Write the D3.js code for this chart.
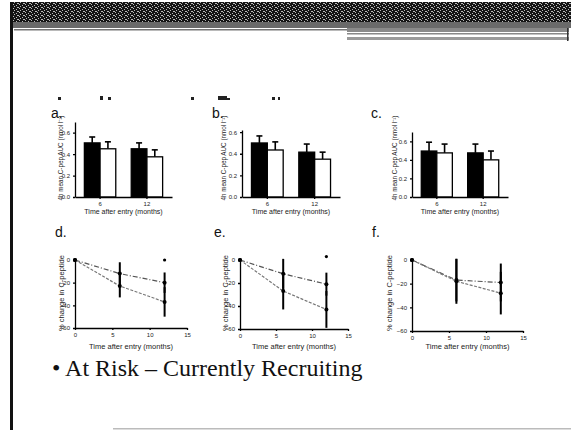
<!DOCTYPE html>
<html>
<head>
<meta charset="utf-8">
<script src="https://cdn.jsdelivr.net/npm/d3@7"></script>
<style>
body { margin: 0; background: #fff; }
text { font-family: "Liberation Sans", Arial, sans-serif; }
</style>
</head>
<body>
<script>
// bar panels a-c : 4h mean C-peptide AUC at 6 and 12 months
const barGroups = ["6", "12"];
const barTicks = [0, 0.2, 0.4, 0.6];

const aBlack = [0.505, 0.45], aBlackErr = [0.055, 0.055];
const aWhite = [0.45, 0.375], aWhiteErr = [0.065, 0.065];
const bBlack = [0.50, 0.415], bBlackErr = [0.065, 0.075];
const bWhite = [0.435, 0.35], bWhiteErr = [0.075, 0.065];
const cBlack = [0.495, 0.475], cBlackErr = [0.095, 0.095];
const cWhite = [0.475, 0.40], cWhiteErr = [0.095, 0.095];

// line panels d-f : % change in C-peptide
const timePoints = [0, 6, 12];
const xTicks = [0, 5, 10, 15];
const yTicks = [0, -20, -40, -60];

const dUpper = [0, -12, -20], dUpperErr = [0, 10, 9];
const dLower = [0, -23, -37], dLowerErr = [0, 10, 13];
const dHigh = [[12, 0]];
const eUpper = [0, -12, -21], eUpperErr = [0, 13, 10];
const eLower = [0, -27, -43], eLowerErr = [0, 16, 16];
const eHigh = [[12, 3]];
const fUpper = [0, -17, -19], fUpperErr = [0, 18, 16];
const fLower = [0, -18, -28], fLowerErr = [0, 19, 18];
const fHigh = [];

const svg = d3.select("body").append("svg")
	.attr("width", 571)
	.attr("height", 430);

// slide frame: dithered banner, left rule, bottom rule
const defs = svg.append("defs");
const pat = defs.append("pattern")
	.attr("id", "dither")
	.attr("width", 6).attr("height", 4)
	.attr("patternUnits", "userSpaceOnUse");
pat.append("rect").attr("width", 6).attr("height", 4).attr("fill", "#151515");
[[1, 0], [4, 1], [2, 2], [5, 3], [0, 3]].forEach(p => {
	pat.append("rect").attr("x", p[0]).attr("y", p[1]).attr("width", 1).attr("height", 1).attr("fill", "#bbb");
});

svg.append("rect").attr("x", 11).attr("y", 2).attr("width", 560).attr("height", 20).attr("fill", "url(#dither)");
svg.append("rect").attr("x", 11).attr("y", 22).attr("width", 560).attr("height", 6).attr("fill", "#6a6a6a");
svg.append("rect").attr("x", 14).attr("y", 29).attr("width", 333).attr("height", 1.5).attr("fill", "#777");
svg.append("rect").attr("x", 347).attr("y", 28).attr("width", 222).attr("height", 4).attr("fill", "#8a8a8a");
svg.append("rect").attr("x", 347).attr("y", 33).attr("width", 222).attr("height", 1.5).attr("fill", "#888");
svg.append("rect").attr("x", 347).attr("y", 37).attr("width", 222).attr("height", 3).attr("fill", "#9a9a9a");
svg.append("rect").attr("x", 567).attr("y", 28).attr("width", 1.5).attr("height", 13).attr("fill", "#333");
svg.append("rect").attr("x", 10).attr("y", 2).attr("width", 3).attr("height", 428).attr("fill", "#111");
svg.append("rect").attr("x", 113).attr("y", 428).attr("width", 458).attr("height", 1.5).attr("fill", "#bbb");

// clipped remains of a text line above the panels
[[58, 97, 3, 3], [100, 96, 3, 4], [108, 97, 3, 3], [191, 97, 3, 3],
 [218, 96, 9, 4], [227, 98, 3, 2], [272, 97, 3, 3], [278, 97, 2, 3]].forEach(r => {
	svg.append("rect").attr("x", r[0]).attr("y", r[1]).attr("width", r[2]).attr("height", r[3]).attr("fill", "#222");
});

function styleAxis(g) {
	g.selectAll("path, line").attr("stroke", "#000").attr("stroke-width", 1.3);
	g.selectAll("text").attr("font-size", 6).attr("fill", "#222");
}

function barPanel(p) {
	const g = svg.append("g");
	const x = d3.scaleBand().domain(barGroups).range([p.x0, p.x1])
		.paddingInner(0.33).paddingOuter(0.2);
	const y = d3.scaleLinear().domain([0, p.yMax]).range([197, p.yTop]);
	const half = x.bandwidth() / 2;

	const series = [
		{vals: p.black, errs: p.blackErr, fill: "#000", off: 0},
		{vals: p.white, errs: p.whiteErr, fill: "#fff", off: half}
	];
	series.forEach(s => {
		const bars = g.selectAll(null).data(barGroups).enter();
		bars.append("line")
			.attr("x1", (d) => x(d) + s.off + half / 2)
			.attr("x2", (d) => x(d) + s.off + half / 2)
			.attr("y1", (d, i) => y(s.vals[i]))
			.attr("y2", (d, i) => y(s.vals[i] + s.errs[i]))
			.attr("stroke", "#000").attr("stroke-width", 1.6);
		bars.append("line")
			.attr("x1", (d) => x(d) + s.off + half / 2 - 3)
			.attr("x2", (d) => x(d) + s.off + half / 2 + 3)
			.attr("y1", (d, i) => y(s.vals[i] + s.errs[i]))
			.attr("y2", (d, i) => y(s.vals[i] + s.errs[i]))
			.attr("stroke", "#000").attr("stroke-width", 1.6);
		bars.append("rect")
			.attr("x", (d) => x(d) + s.off)
			.attr("y", (d, i) => y(s.vals[i]))
			.attr("width", half)
			.attr("height", (d, i) => y(0) - y(s.vals[i]))
			.attr("fill", s.fill)
			.attr("stroke", "#000").attr("stroke-width", 1.3);
	});

	g.append("g").attr("transform", `translate(0,197)`)
		.call(d3.axisBottom(x).tickSize(2).tickSizeOuter(0))
		.call(styleAxis);
	g.append("g").attr("transform", `translate(${p.x0},0)`)
		.call(d3.axisLeft(y).tickValues(barTicks).tickFormat(d3.format(".1f")).tickSize(2).tickSizeOuter(0))
		.call(styleAxis);

	g.append("text").attr("x", (p.x0 + p.x1) / 2).attr("y", 214)
		.attr("text-anchor", "middle").attr("font-size", 7).attr("fill", "#222")
		.text("Time after entry (months)");
	g.append("text")
		.attr("transform", `translate(${p.labX},158) rotate(-90)`)
		.attr("text-anchor", "middle").attr("font-size", 6.3).attr("fill", "#222")
		.text("4h mean C-pep AUC (nmol l⁻¹)");
	g.append("text").attr("x", p.letX).attr("y", 118)
		.attr("font-size", 14).attr("fill", "#111").text(p.letter);
}

function linePanel(p) {
	const g = svg.append("g");
	const x = d3.scaleLinear().domain([0, 15]).range([p.x0, p.x1]);
	const y = d3.scaleLinear().domain([-60, 0]).range([p.yBot, 260]);

	const series = [
		{vals: p.upper, errs: p.upperErr, color: "#555", dash: "5,2,1,2"},
		{vals: p.lower, errs: p.lowerErr, color: "#777", dash: "3,1.5"}
	];
	series.forEach(s => {
		const pts = timePoints.map((t, i) => [t, s.vals[i], s.errs[i]]);
		g.append("path")
			.attr("d", d3.line().x(d => x(d[0])).y(d => y(d[1]))(pts))
			.attr("fill", "none").attr("stroke", s.color)
			.attr("stroke-width", 1.2).attr("stroke-dasharray", s.dash);
		g.selectAll(null).data(pts.filter(d => d[2] > 0)).enter().append("line")
			.attr("x1", d => x(d[0])).attr("x2", d => x(d[0]))
			.attr("y1", d => y(d[1] + d[2])).attr("y2", d => y(d[1] - d[2]))
			.attr("stroke", "#000").attr("stroke-width", 2);
		g.selectAll(null).data(pts).enter().append("circle")
			.attr("cx", d => x(d[0])).attr("cy", d => y(d[1]))
			.attr("r", 2).attr("fill", "#000");
	});
	g.selectAll(null).data(p.high).enter().append("circle")
		.attr("cx", d => x(d[0])).attr("cy", d => y(d[1]))
		.attr("r", 1.6).attr("fill", "#000");

	g.append("g").attr("transform", `translate(0,${p.yBot})`)
		.call(d3.axisBottom(x).tickValues(xTicks).tickSize(2).tickSizeOuter(0))
		.call(styleAxis);
	g.append("g").attr("transform", `translate(${p.x0},0)`)
		.call(d3.axisLeft(y).tickValues(yTicks).tickSize(2).tickSizeOuter(0))
		.call(styleAxis);

	g.append("text").attr("x", (p.x0 + p.x1) / 2).attr("y", 349)
		.attr("text-anchor", "middle").attr("font-size", 7.5).attr("fill", "#222")
		.text("Time after entry (months)");
	g.append("text")
		.attr("transform", `translate(${p.labX},293) rotate(-90)`)
		.attr("text-anchor", "middle").attr("font-size", 7.5).attr("fill", "#222")
		.text("% change in C-peptide");
	g.append("text").attr("x", p.letX).attr("y", 237)
		.attr("font-size", 14).attr("fill", "#111").text(p.letter);
}

barPanel({letter: "a.", letX: 51, labX: 63, x0: 75, x1: 172, yTop: 122, yMax: 0.7,
	black: aBlack, blackErr: aBlackErr, white: aWhite, whiteErr: aWhiteErr});
barPanel({letter: "b.", letX: 212, labX: 226, x0: 242, x1: 340, yTop: 130, yMax: 0.62,
	black: bBlack, blackErr: bBlackErr, white: bWhite, whiteErr: bWhiteErr});
barPanel({letter: "c.", letX: 371, labX: 397, x0: 412, x1: 508, yTop: 132, yMax: 0.7,
	black: cBlack, blackErr: cBlackErr, white: cWhite, whiteErr: cWhiteErr});

linePanel({letter: "d.", letX: 55, labX: 64, x0: 75, x1: 187, yBot: 328,
	upper: dUpper, upperErr: dUpperErr, lower: dLower, lowerErr: dLowerErr, high: dHigh});
linePanel({letter: "e.", letX: 214, labX: 228, x0: 240, x1: 348, yBot: 329,
	upper: eUpper, upperErr: eUpperErr, lower: eLower, lowerErr: eLowerErr, high: eHigh});
linePanel({letter: "f.", letX: 372, labX: 392, x0: 412, x1: 523, yBot: 331,
	upper: fUpper, upperErr: fUpperErr, lower: fLower, lowerErr: fLowerErr, high: fHigh});

// bullet line
svg.append("text").attr("x", 52).attr("y", 376)
	.style("font-family", "'Liberation Serif', 'Times New Roman', serif")
	.attr("font-size", 24).attr("fill", "#111")
	.text("• At Risk – Currently Recruiting");
</script>
</body>
</html>
